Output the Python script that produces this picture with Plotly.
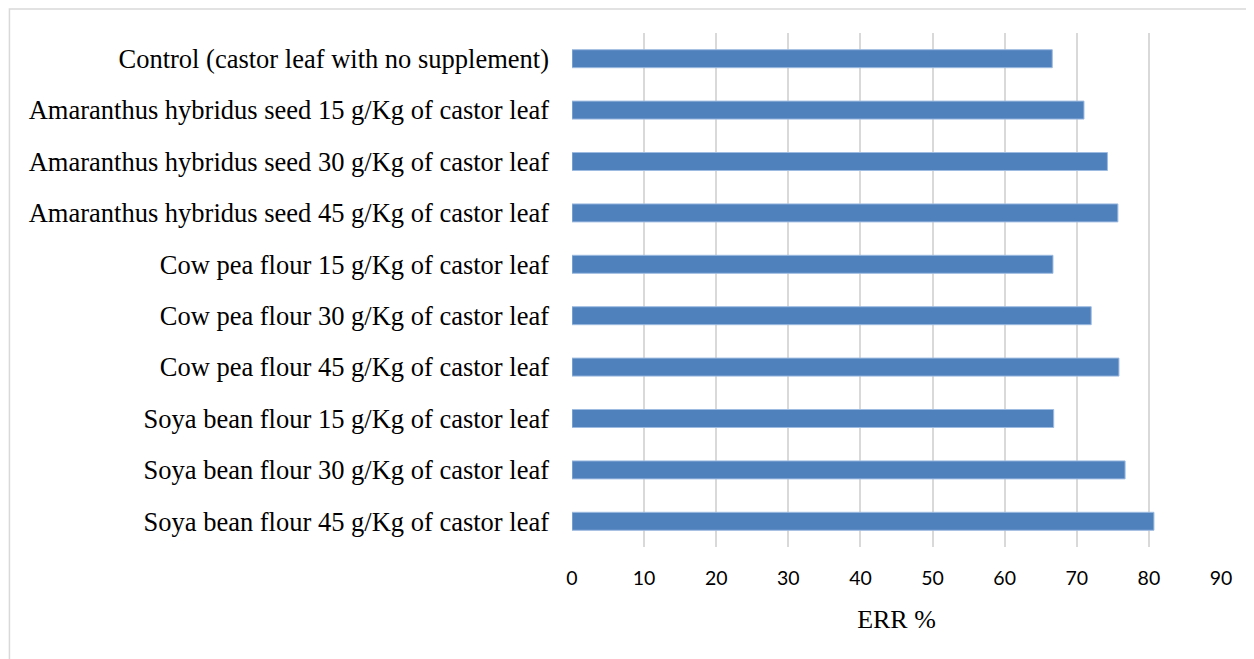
import plotly.graph_objects as go

categories = [
    "Control (castor leaf with no supplement)",
    "Amaranthus hybridus seed 15 g/Kg of castor leaf",
    "Amaranthus hybridus seed 30 g/Kg of castor leaf",
    "Amaranthus hybridus seed 45 g/Kg of castor leaf",
    "Cow pea flour 15 g/Kg of castor leaf",
    "Cow pea flour 30 g/Kg of castor leaf",
    "Cow pea flour 45 g/Kg of castor leaf",
    "Soya bean flour 15 g/Kg of castor leaf",
    "Soya bean flour 30 g/Kg of castor leaf",
    "Soya bean flour 45 g/Kg of castor leaf",
]
err_values = [66.6, 71.0, 74.25, 75.7, 66.7, 72.0, 75.85, 66.8, 76.7, 80.7]
x_ticks = [0, 10, 20, 30, 40, 50, 60, 70, 80, 90]

fig = go.Figure(go.Bar(
    y=categories, x=err_values, orientation="h",
    marker=dict(color="#4f81bd", line=dict(color="#9dbbe0", width=1)),
))

serif = "Liberation Serif, Times New Roman, serif"
W, H = 1246, 651
L, T = 564, 25
PW, PH = 649.5, 514
fig.update_layout(
    width=W, height=H,
    margin=dict(l=L, r=W - L - PW, t=T, b=H - T - PH),
    paper_bgcolor="white", plot_bgcolor="white",
    bargap=0.65, showlegend=False,
    xaxis=dict(
        range=[0, 90], tickvals=x_ticks, showgrid=True,
        gridcolor="#d9d9d9", gridwidth=1.5, zeroline=False,
        showline=False, ticks="",
        tickfont=dict(family="Lato, Open Sans, sans-serif", size=19.5, color="#000"),
        ticklabelstandoff=17,
        title=dict(text="ERR %", font=dict(family=serif, size=26, color="#000"), standoff=22),
    ),
    yaxis=dict(
        categoryorder="array", categoryarray=categories, autorange="reversed",
        showgrid=False, zeroline=False, showline=False, ticks="",
        tickfont=dict(family=serif, size=26.5, color="#000"),
        ticklabelstandoff=22,
    ),
    shapes=[dict(type="rect", xref="paper", yref="paper",
                 x0=-(L - 1) / PW, x1=(W + 10 - L) / PW,
                 y0=-(H - T - PH + 10) / PH, y1=(T - 1) / PH + 1,
                 line=dict(color="#d9d9d9", width=1.5), layer="below")],
)

fig.write_html("out.html")
